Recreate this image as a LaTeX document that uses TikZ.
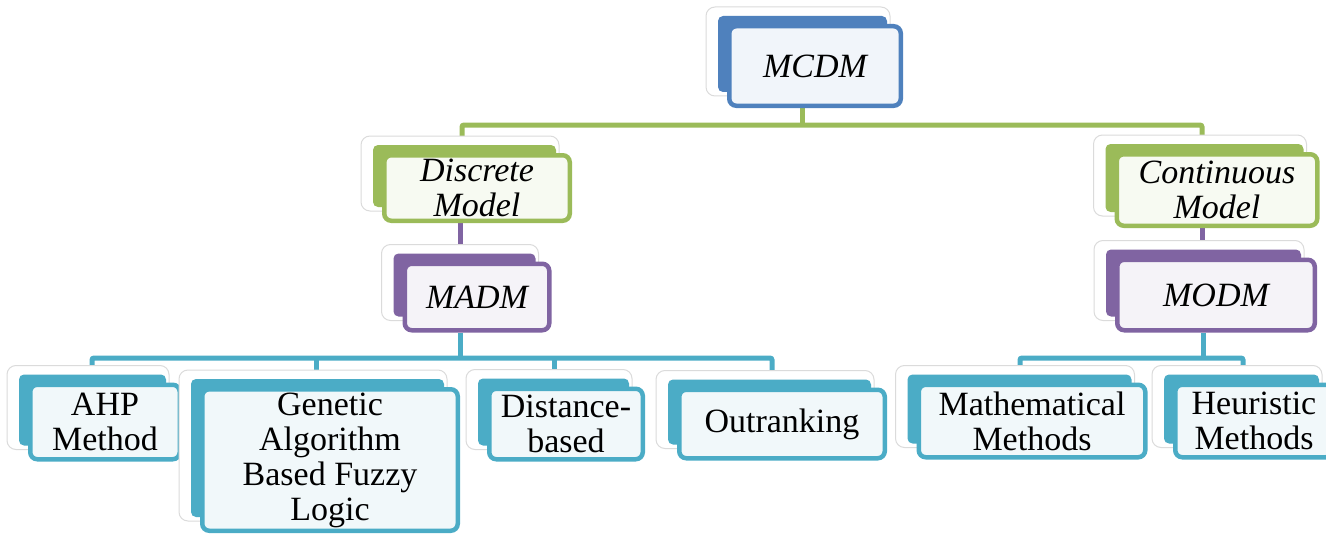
\documentclass[tikz,border=0pt]{standalone}
\usepackage{fontspec}
\setmainfont{Liberation Serif}
\usetikzlibrary{backgrounds}
\definecolor{cblue}{HTML}{4F81BD}
\definecolor{cgreen}{HTML}{9BBB59}
\definecolor{cpurple}{HTML}{8064A2}
\definecolor{cteal}{HTML}{4BACC6}
\tikzset{
  frontbox/.style={draw=#1, fill=#1!8, line width=4.5pt, rounded corners=7pt,
    align=center, inner sep=0pt, font=\fontsize{34}{35}\selectfont},
  conn/.style={draw=#1, line width=5pt, rounded corners=2pt},
}
\newcommand\tierbox[7]{% name, cx, cy, w, h, colour, text
  \filldraw[fill=white, draw=black!14, line width=1pt, rounded corners=9pt]
    ({#2-#4/2-21},{#3-#5/2-17}) rectangle ({#2+#4/2-13},{#3+#5/2-12});
  \fill[#6, rounded corners=5pt]
    ({#2-#4/2-9},{#3-#5/2-8}) rectangle ({#2+#4/2-16},{#3+#5/2-16});
  \node[frontbox=#6, minimum width=#4-4.5, minimum height=#5-4.5] (#1) at (#2,#3) {#7};
}
\begin{document}
\begin{tikzpicture}[x=1pt,y=-1pt]
\useasboundingbox (0,0) rectangle (1326,535);
% boxes
\tierbox{mcdm}{815}{66}{176}{84}{cblue}{\itshape MCDM}
\tierbox{disc}{477}{188}{190}{70}{cgreen}{\itshape Discrete\\\itshape Model}
\tierbox{cont}{1217}{190}{205}{76}{cgreen}{\itshape Continuous\\\itshape Model}
\tierbox{madm}{477}{297}{149}{71}{cpurple}{\itshape MADM}
\tierbox{modm}{1216}{295}{202}{75}{cpurple}{\itshape MODM}
\tierbox{ahp}{105}{422}{154}{79}{cteal}{AHP\\Method}
\tierbox{gen}{330}{460}{260}{146}{cteal}{Genetic\\Algorithm\\Based Fuzzy\\Logic}
\tierbox{dist}{566}{424}{158}{75}{cteal}{Distance-\\based}
\tierbox{outr}{782}{424}{210}{73}{cteal}{Outranking}
\tierbox{math}{1032}{421}{231}{77}{cteal}{Mathematical\\Methods}
\tierbox{heur}{1254}{421}{162}{77}{cteal}{Heuristic\\Methods}
% junction points
\coordinate (gM) at (802,125);
\coordinate (gL) at (462,125);
\coordinate (gR) at (1202,125);
\coordinate (pL) at (460,240);
\coordinate (pR) at (1202,240);
\coordinate (tM) at (460,358);
\coordinate (tL) at (92,358);
\coordinate (t2) at (316,358);
\coordinate (t3) at (554,358);
\coordinate (tR) at (772,358);
\coordinate (rM) at (1203,358);
\coordinate (rL) at (1020,358);
\coordinate (rR) at (1243,358);
\begin{pgfonlayer}{background}
\draw[conn=cgreen] (mcdm.south -| gM) -- (gM);
\draw[conn=cgreen] (disc.north -| gL) |- (gR) -- (cont.north -| gR);
\draw[conn=cpurple] (disc.south -| pL) -- (madm.north -| pL);
\draw[conn=cpurple] (cont.south -| pR) -- (modm.north -| pR);
\draw[conn=cteal] (madm.south -| tM) -- (tM);
\draw[conn=cteal] (ahp.north -| tL) |- (tR) -- (outr.north -| tR);
\draw[conn=cteal] (t2) -- (gen.north -| t2);
\draw[conn=cteal] (t3) -- (dist.north -| t3);
\draw[conn=cteal] (modm.south -| rM) -- (rM);
\draw[conn=cteal] (math.north -| rL) |- (rR) -- (heur.north -| rR);
\end{pgfonlayer}
\end{tikzpicture}
\end{document}
